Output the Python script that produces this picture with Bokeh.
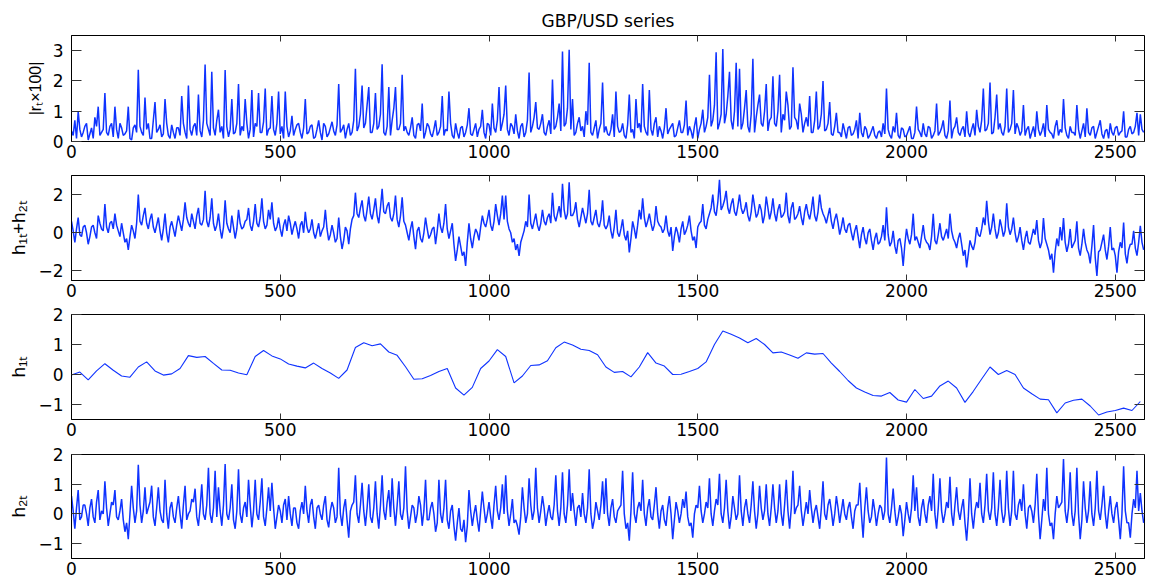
import numpy as np
from bokeh.plotting import figure
from bokeh.layouts import column
from bokeh.models import Range1d, FixedTicker, LinearAxis
from bokeh.embed import file_html
from bokeh.resources import INLINE

TITLE = "GBP/USD series"
X_TICKS = [0, 500, 1000, 1500, 2000, 2500]
X_MAX = 2570
NOISY_STEP = 4     # time steps between stored samples of the noisy series
SMOOTH_STEP = 20   # time steps between stored samples of h1t

# |r_t x 100|
abs_r = [
    0.35, 0.2, 0.7, 0.1, 1.0, 0.4, 0.15, 0.3, 0.5, 0.6, 0.05, 0.25, 0.45, 0.1, 0.8, 0.5, 1.15, 0.2, 0.3, 0.4,
    1.6, 0.3, 0.2, 0.5, 0.6, 0.15, 1.15, 0.4, 0.1, 0.6, 0.45, 0.2, 0.25, 0.35, 1.15, 0.1, 0.05, 0.45, 0.55, 0.3,
    2.37, 0.5, 0.3, 0.2, 1.45, 0.4, 0.6, 0.1, 0.1, 0.7, 1.3, 0.3, 0.4, 0.55, 0.15, 0.25, 1.4, 0.6, 0.2, 0.1,
    0.55, 0.3, 0.1, 0.45, 0.45, 0.2, 1.5, 0.6, 0.3, 0.1, 1.85, 0.4, 0.2, 0.5, 0.6, 0.2, 1.55, 0.35, 0.15, 0.7,
    2.54, 0.6, 0.4, 0.2, 2.3, 0.45, 0.2, 0.7, 1.05, 0.3, 0.5, 0.1, 2.36, 0.5, 0.15, 0.4, 1.4, 0.25, 0.3, 0.6,
    1.9, 0.2, 0.5, 0.35, 1.4, 0.6, 0.1, 0.4, 1.7, 0.15, 0.6, 0.5, 1.6, 0.3, 0.3, 0.65, 1.75, 0.2, 0.4, 0.45,
    1.5, 0.4, 0.2, 0.6, 1.65, 0.25, 0.5, 0.1, 1.65, 0.5, 0.15, 0.35, 0.85, 0.2, 0.4, 0.55, 0.6, 0.3, 0.1, 0.45,
    1.4, 0.25, 0.3, 0.5, 0.55, 0.1, 0.15, 0.4, 0.7, 0.3, 0.05, 0.6, 0.5, 0.15, 0.25, 0.45, 0.65, 0.35, 0.2, 0.55,
    1.9, 0.3, 0.4, 0.55, 0.1, 0.4, 0.6, 0.2, 0.3, 0.7, 2.4, 0.35, 0.5, 0.9, 1.85, 0.45, 0.6, 1.2, 1.8, 0.3,
    0.3, 0.6, 1.6, 0.4, 0.5, 0.9, 2.55, 0.3, 0.2, 0.5, 1.8, 0.2, 0.7, 1.1, 1.8, 0.4, 0.4, 0.6, 2.2, 0.35,
    0.5, 0.3, 0.2, 0.45, 0.8, 0.2, 0.1, 0.55, 0.6, 0.35, 1.25, 0.1, 0.3, 0.6, 0.5, 0.25, 0.15, 0.4, 0.7, 0.2,
    0.3, 0.5, 1.5, 0.2, 0.4, 0.35, 1.65, 0.6, 0.2, 0.1, 0.6, 0.3, 0.1, 0.45, 0.5, 0.15, 0.3, 0.55, 1.1, 0.25,
    0.2, 0.4, 0.6, 0.15, 0.4, 0.5, 1.05, 0.3, 0.1, 0.6, 0.55, 0.2, 1.25, 0.45, 0.3, 0.7, 1.8, 0.35, 0.6, 0.9,
    1.85, 0.4, 0.2, 0.6, 0.5, 0.25, 0.9, 0.35, 0.1, 0.5, 0.6, 0.15, 0.3, 0.7, 2.28, 0.3, 0.5, 0.8, 1.3, 0.45,
    0.4, 0.6, 0.9, 0.3, 0.2, 0.5, 0.7, 0.25, 2.05, 0.4, 0.5, 0.8, 1.25, 0.35, 2.97, 0.5, 0.6, 1.1, 3.03, 0.4,
    1.4, 0.2, 0.3, 0.6, 0.8, 0.35, 0.5, 0.15, 1.0, 0.55, 2.6, 0.3, 0.2, 0.45, 0.7, 0.1, 0.4, 0.6, 1.95, 0.3,
    0.5, 0.25, 0.2, 0.4, 0.9, 0.15, 1.65, 0.5, 0.3, 0.35, 0.6, 0.2, 0.1, 0.55, 1.55, 0.3, 0.4, 0.1, 1.4, 0.45,
    0.6, 0.3, 1.9, 0.5, 0.3, 0.2, 1.7, 0.4, 0.2, 0.6, 0.8, 0.15, 0.5, 0.35, 0.1, 0.45, 1.1, 0.25, 0.4, 0.5,
    0.6, 0.15, 0.2, 0.45, 0.7, 0.3, 0.3, 0.55, 1.35, 0.2, 0.5, 0.35, 0.1, 0.5, 0.8, 0.1, 0.4, 0.6, 1.05, 0.3,
    0.5, 0.8, 2.2, 0.5, 0.7, 1.2, 2.95, 0.4, 0.6, 0.9, 3.05, 0.6, 0.9, 1.5, 2.3, 0.7, 0.4, 1.0, 2.6, 0.5,
    2.4, 0.4, 0.6, 1.1, 1.7, 0.5, 0.3, 0.9, 2.73, 0.3, 0.8, 1.2, 1.55, 0.6, 0.5, 1.0, 1.9, 0.35, 0.7, 0.8,
    2.15, 0.6, 0.5, 1.0, 2.2, 0.3, 0.9, 0.7, 1.65, 1.2, 0.4, 0.5, 2.45, 0.8, 0.7, 0.4, 1.25, 0.9, 0.3, 0.6,
    0.8, 0.5, 1.5, 0.3, 0.3, 0.7, 1.65, 0.4, 0.5, 0.9, 2.0, 0.35, 0.4, 0.6, 1.3, 0.25, 0.2, 0.5, 0.95, 0.3,
    0.3, 0.15, 0.6, 0.35, 0.1, 0.45, 0.5, 0.2, 0.25, 0.4, 0.7, 0.1, 0.95, 0.3, 0.15, 0.5, 0.4, 0.1, 0.2, 0.35,
    0.5, 0.2, 0.1, 0.3, 0.35, 0.15, 0.6, 0.25, 1.75, 0.4, 0.2, 0.1, 0.5, 0.3, 0.95, 0.2, 0.1, 0.45, 0.4, 0.15,
    0.2, 0.35, 0.5, 0.1, 0.1, 0.3, 1.15, 0.4, 0.3, 0.15, 0.6, 0.25, 0.15, 0.5, 0.45, 0.1, 0.2, 0.35, 1.25, 0.2,
    0.3, 0.45, 0.7, 0.2, 0.1, 0.35, 1.35, 0.1, 0.4, 0.5, 0.8, 0.3, 0.2, 0.4, 0.5, 0.15, 1.0, 0.3, 0.15, 0.4,
    0.6, 0.2, 1.05, 0.5, 0.3, 0.7, 1.75, 0.35, 0.4, 0.6, 1.95, 0.25, 0.3, 0.8, 1.55, 0.4, 0.6, 0.3, 0.2, 0.5,
    1.75, 0.3, 0.4, 0.6, 1.7, 0.25, 0.6, 0.45, 0.2, 0.35, 1.2, 0.2, 0.4, 0.5, 0.1, 0.3, 0.5, 0.15, 1.0, 0.4,
    0.2, 0.35, 0.6, 0.15, 1.2, 0.4, 0.3, 0.25, 0.1, 0.5, 0.7, 0.2, 0.4, 0.3, 1.4, 0.45, 0.2, 0.1, 0.5, 0.3,
    0.3, 0.2, 1.2, 0.4, 0.1, 0.35, 0.6, 0.15, 1.1, 0.3, 0.2, 0.45, 0.5, 0.1, 0.3, 0.5, 0.7, 0.25, 0.1, 0.35,
    0.4, 0.1, 0.6, 0.3, 0.2, 0.45, 0.5, 0.2, 0.3, 0.35, 1.0, 0.15, 0.15, 0.4, 0.5, 0.25, 0.3, 0.5, 0.95, 0.2,
    0.9, 0.4, 0.3,
]

# h1t + h2t
h_sum = [
    0.6, 0.1, -0.5, 0.2, 0.8, -0.1, -0.2, 0.3, 0.4, 0.0, -0.6, -0.2, 0.3, 0.4, 0.0, -0.3, 0.9, 0.5, 0.2, 0.1,
    1.5, 0.3, 0.0, 0.5, 0.6, 0.2, 1.0, 0.4, 0.1, -0.2, 0.5, 0.0, -0.5, -0.3, -0.9, -0.2, 0.4, 0.1, -0.3, 0.5,
    2.0, 0.6, 0.4, 0.9, 1.3, 0.5, 0.2, 0.7, 1.0, 0.3, 0.0, 0.4, 0.8, 0.1, -0.4, 0.2, 1.0, 0.0, -0.5, 0.3,
    0.6, 0.2, -0.2, 0.4, 0.9, 0.5, 0.1, 0.7, 1.6, 0.8, 0.5, 0.3, 1.0, 0.6, 0.2, 0.9, 1.3, 0.5, 0.4, 0.7,
    2.2, 0.6, 0.3, 0.8, 1.8, 0.5, 0.1, 0.4, 1.0, 0.2, -0.3, 0.3, 1.7, 0.5, 0.2, 0.0, 0.9, 0.3, -0.3, 0.2,
    1.2, 0.5, 0.2, 0.3, 0.6, 0.7, 1.3, 0.4, 0.1, 0.6, 1.5, 0.5, 0.3, 0.8, 1.8, 0.6, 0.2, 0.4, 1.2, 0.7,
    1.6, 0.5, 0.1, 0.3, 0.8, 0.2, -0.2, 0.4, 0.7, 0.1, 0.9, 0.5, -0.1, 0.3, 0.6, 0.2, -0.3, 0.4, 0.6, 0.0,
    1.1, 0.3, 0.0, 0.2, 0.7, 0.0, -0.3, 0.1, 0.5, -0.2, 0.1, 0.3, 1.2, 0.2, -0.4, -0.1, 0.4, 0.0, -0.5, -0.3,
    0.8, -0.2, -0.85, -0.4, 0.3, 0.1, -0.6, 0.2, 0.7, 0.9, 2.1, 1.0, 0.8, 1.3, 1.7, 0.9, 0.6, 1.2, 1.9, 1.0,
    0.7, 1.2, 1.8, 0.9, 0.5, 1.3, 2.3, 1.1, 1.0, 1.4, 1.6, 0.8, 0.6, 1.0, 1.95, 0.7, 0.3, 0.9, 1.86, 0.6,
    0.4, 0.0, -0.4, 0.2, 0.6, -0.2, -0.86, 0.1, 0.3, -0.3, -0.5, 0.0, 0.8, 0.2, -0.3, -0.1, 0.2, 0.3, -0.6, 0.1,
    1.0, 0.3, 0.0, 0.5, 1.5, 0.2, -0.3, 0.1, 0.5, -0.6, -1.47, -0.9, -0.2, -0.7, -1.2, -1.0, -1.74, -0.5, 0.5, -0.3,
    -0.8, -0.2, 0.2, 0.0, -0.4, 0.3, 0.9, 0.5, 0.3, 0.7, 1.2, 0.4, 0.1, 0.6, 1.5, 0.9, 0.4, 1.0, 1.95, 0.7,
    1.95, 0.6, 0.2, 0.0, -0.5, -0.3, -0.9, -0.6, -1.21, -0.5, -0.2, 0.1, 0.6, 0.3, 2.0, 0.5, 0.2, 0.6, 1.0, 0.4,
    0.1, 0.5, 1.2, 0.6, 0.4, 0.8, 1.0, 0.5, 2.1, 0.9, 0.6, 1.0, 1.4, 0.8, 2.56, 1.2, 0.7, 1.0, 2.65, 0.9,
    0.9, 1.1, 1.6, 0.7, 0.3, 0.8, 1.3, 0.9, 0.5, 1.0, 2.25, 0.6, 0.4, 0.8, 1.2, 0.5, 0.3, 0.7, 1.7, 0.4,
    0.2, 0.4, 0.9, 0.1, -0.3, 0.3, 1.2, 0.0, -0.2, 0.2, 0.7, -0.1, -0.4, 0.1, -1.03, -0.3, 0.6, 0.2, -0.3, 0.4,
    1.2, 0.7, 1.8, 0.8, 0.3, 0.6, 1.0, 0.5, 0.1, 0.4, 1.4, 0.6, 0.4, 0.3, 0.0, 0.2, 0.9, 0.1, -0.2, 0.3,
    -0.95, -0.2, 0.3, 0.0, -0.5, 0.2, 0.6, -0.1, 0.1, 0.4, 0.9, 0.1, -0.4, -0.2, -0.8, 0.3, 0.5, 0.6, 1.5, 0.4,
    0.2, 0.7, 1.0, 1.3, 2.0, 1.1, 0.9, 1.6, 2.77, 1.2, 1.4, 1.7, 2.2, 1.3, 1.0, 1.5, 1.8, 1.1, 0.9, 1.4,
    2.0, 1.3, 1.0, 1.2, 1.6, 0.9, 0.6, 1.1, 2.0, 1.4, 0.8, 1.0, 1.5, 1.2, 0.5, 0.9, 1.9, 1.3, 0.7, 1.1,
    1.8, 1.0, 0.6, 1.2, 1.5, 0.8, 0.9, 1.1, 2.1, 0.9, 0.5, 1.3, 1.6, 0.7, 0.8, 1.0, 1.4, 0.8, 0.4, 1.1,
    1.5, 1.0, 0.7, 1.2, 1.9, 0.9, 0.6, 1.1, 2.0, 1.3, 1.0, 0.8, 0.5, 0.9, 1.3, 0.6, 0.2, 0.7, 1.0, 0.5,
    -0.1, 0.3, 0.8, 0.2, 0.0, 0.4, 0.5, 0.0, -0.4, 0.1, 0.4, -0.2, -0.8, -0.1, 0.3, -0.3, -0.6, 0.0, 0.2, -0.4,
    -0.9, -0.3, 0.0, -0.6, -0.5, -0.2, 0.4, -0.4, 1.33, -0.1, -0.7, -0.5, 0.1, -0.7, -1.1, -0.4, -0.3, -0.8, -1.74, -0.6,
    0.2, -0.3, -0.6, -0.1, 1.0, -0.4, -0.2, -0.5, -0.8, -0.2, 0.4, -0.3, -0.5, -0.6, -0.9, -0.2, 1.0, -0.4, -0.6, -0.1,
    0.5, -0.2, -0.4, -0.1, 0.2, -0.3, 1.0, 0.1, -0.3, -0.5, -0.8, -0.3, 0.0, -0.6, -1.2, -0.9, -1.82, -1.1, -0.4, -0.7,
    -0.9, -0.5, 0.3, -0.1, -0.2, 0.2, 0.8, 0.4, 1.68, 0.6, -0.1, 0.3, 1.0, 0.2, -0.3, 0.0, 0.7, 0.3, -0.2, 0.1,
    1.55, 0.3, -0.1, 0.2, 0.8, 0.0, -0.5, -0.2, 0.3, -0.4, -0.9, -0.3, 0.1, -0.5, -0.6, -0.2, 0.2, -0.1, 0.67, -0.4,
    -0.8, -0.5, 0.77, -0.3, -0.6, -0.9, -1.4, -1.1, -2.09, -1.0, -0.3, -0.7, 0.3, -0.4, 0.77, -0.5, -1.0, -0.6, 0.2, -0.8,
    -0.6, -0.4, 0.6, -0.8, -1.2, -0.6, 0.2, -0.5, -0.9, -1.1, -1.6, -0.7, 0.4, -1.3, -2.26, -1.0, -0.9, -0.5, -0.1, -0.9,
    -1.4, -0.7, 0.3, -0.9, -0.8, -1.2, -2.09, -1.0, -0.5, -0.8, 0.54, -1.1, -1.6, -0.9, -0.6, -0.6, 0.1, -0.8, -1.2, -0.5,
    0.37, -0.5, -0.9,
]

# h1t (smooth component)
h1 = [
    -0.02, 0.08, -0.18, 0.12, 0.36, 0.14, -0.05, -0.09, 0.25, 0.42,
    0.12, -0.02, 0.02, 0.2, 0.63, 0.57, 0.6, 0.37, 0.15, 0.14,
    0.05, -0.01, 0.6, 0.8, 0.62, 0.52, 0.35, 0.28, 0.22, 0.38,
    0.2, 0.05, -0.13, 0.15, 0.9, 1.06, 0.96, 1.02, 0.75, 0.64,
    0.26, -0.16, -0.14, -0.03, 0.1, 0.2, -0.45, -0.69, -0.43, 0.2,
    0.45, 0.83, 0.6, -0.28, -0.05, 0.3, 0.32, 0.46, 0.89, 1.08,
    0.98, 0.84, 0.8, 0.66, 0.25, 0.07, 0.1, -0.08, 0.25, 0.73,
    0.38, 0.28, 0.0, 0.01, 0.1, 0.2, 0.42, 1.0, 1.45, 1.34,
    1.22, 1.06, 1.2, 1.0, 0.72, 0.75, 0.65, 0.54, 0.72, 0.68,
    0.7, 0.38, 0.1, -0.2, -0.45, -0.58, -0.7, -0.72, -0.6, -0.85,
    -0.92, -0.5, -0.8, -0.72, -0.38, -0.22, -0.45, -0.93, -0.56, -0.15,
    0.25, 0.0, 0.13, 0.0, -0.45, -0.64, -0.82, -0.84, -1.28, -0.95,
    -0.86, -0.82, -1.05, -1.35, -1.25, -1.2, -1.12, -1.2, -0.9,
]

# h2t
h2 = [
    0.6, 0.1, -0.5, 0.2, 0.8, -0.2, -0.1, 0.3, 0.3, 0.0, -0.4, 0.2, 0.5, -0.1, -0.3, 0.4, 0.8, -0.2, 0.1, 0.0,
    1.1, 0.2, -0.4, 0.0, 0.4, 0.3, 0.8, -0.1, -0.2, 0.1, 0.5, -0.2, -0.6, -0.3, -0.85, 0.0, 0.95, 0.2, -0.3, 0.1,
    1.65, 0.3, -0.3, 0.1, 0.9, 0.0, 0.2, 0.4, 0.95, -0.1, -0.4, 0.2, 0.9, 0.1, -0.2, -0.3, 1.15, 0.0, -0.5, 0.2,
    0.4, -0.1, -0.3, 0.2, 0.6, 0.0, -0.5, 0.3, 0.95, -0.2, 0.0, 0.1, 0.5, 0.4, 0.85, -0.1, -0.4, 0.2, 1.0, 0.0,
    -0.2, 0.3, 1.55, 0.0, -0.3, 0.2, 1.45, -0.1, 0.9, 0.1, -0.4, 0.3, 1.68, 0.0, -0.2, 0.2, 1.0, -0.2, -0.5, 0.1,
    1.5, 0.0, -0.3, 0.2, 0.4, -0.1, 1.15, 0.3, -0.45, 0.1, 1.15, 0.0, -0.2, 0.4, 1.2, -0.1, -0.4, 0.2, 0.9, 0.1,
    1.05, 0.2, -0.5, -0.1, 0.3, 0.1, -0.3, 0.3, 0.5, -0.2, 0.6, 0.0, -0.4, 0.2, 0.2, -0.3, -0.5, 0.1, 0.4, 0.0,
    0.95, 0.1, -0.3, 0.3, 0.5, -0.1, -0.5, 0.2, 0.3, 0.0, -0.2, 0.3, 0.6, -0.2, -0.45, 0.1, 0.4, 0.2, -0.3, -0.1,
    1.55, 0.0, -0.4, 0.2, 0.5, -0.2, -0.8, 0.1, 0.3, 0.4, 1.3, 0.0, -0.3, 0.3, 1.05, 0.1, -0.4, 0.2, 1.0, -0.1,
    -0.3, 0.2, 1.1, 0.0, -0.5, 0.3, 1.3, 0.1, -0.2, 0.4, 0.8, -0.1, 1.2, 0.2, -0.4, 0.3, 1.1, 0.0, -0.2, 0.2,
    1.6, 0.1, -0.5, -0.1, 0.3, 0.2, -0.3, 0.0, 0.6, 0.3, -0.4, 0.1, 1.15, -0.2, -0.2, 0.2, 0.4, 0.0, -0.6, -0.3,
    1.15, 0.0, -0.3, 0.2, 1.15, -0.2, -0.5, 0.1, 0.3, -0.4, -0.9, -0.3, 0.2, -0.5, -0.6, -0.2, -0.95, -0.4, 0.8, 0.1,
    -0.4, 0.0, 0.3, -0.2, -0.6, 0.1, 0.75, 0.2, -0.3, 0.0, 0.4, -0.1, -0.5, 0.3, 0.95, 0.1, -0.2, 0.2, 1.0, 0.0,
    1.3, 0.1, -0.4, 0.0, 0.5, -0.3, -0.2, -0.4, -0.7, -0.1, 0.9, 0.2, -0.3, 0.0, 1.2, 0.3, -0.2, 0.1, 1.55, 0.2,
    -0.3, 0.1, 0.6, 0.2, -0.4, 0.0, 0.3, -0.1, -0.2, 0.3, 1.3, 0.1, -0.4, 0.2, 1.4, 0.0, -0.3, 0.3, 1.5, 0.1,
    0.7, 0.1, -0.4, 0.2, 0.3, -0.1, 0.7, 0.0, -0.3, 0.2, 1.5, 0.0, -0.5, -0.2, 0.4, 0.1, -0.2, 0.3, 1.1, 0.0,
    1.2, 0.0, -0.4, 0.2, 0.5, -0.1, -0.3, 0.1, 0.2, 0.3, 1.45, 0.0, -0.5, -0.3, -0.9, 0.1, 1.4, 0.0, -0.3, 0.2,
    0.4, 0.1, 1.15, 0.0, -0.4, 0.2, 0.5, -0.1, -0.2, 0.3, 0.9, 0.0, -0.5, 0.1, 0.3, -0.2, -0.4, 0.2, 0.6, 0.0,
    -0.85, -0.2, 0.4, 0.1, -0.3, 0.0, 0.5, 0.2, 0.75, -0.1, -0.4, -0.3, -0.8, 0.0, 0.3, 0.2, 0.95, 0.1, -0.3, 0.0,
    0.4, 0.2, 1.2, 0.0, -0.4, 0.1, 0.5, 0.3, 1.35, 0.0, -0.3, 0.2, 1.15, 0.1, -0.5, -0.1, 0.6, 0.2, -0.2, 0.0,
    1.3, 0.1, -0.4, 0.2, 0.5, 0.0, -0.3, 0.3, 1.1, 0.1, -0.5, 0.0, 0.95, 0.2, -0.2, 0.1, 1.0, 0.0, -0.4, 0.2,
    1.0, 0.2, -0.3, 0.1, 1.0, 0.0, -0.4, 0.3, 1.15, 0.1, -0.5, 0.2, 1.45, 0.0, 0.2, 0.3, 0.95, 0.1, -0.4, 0.0,
    0.4, 0.0, 0.8, 0.2, -0.3, 0.1, 0.3, -0.1, -0.5, 0.2, 1.1, 0.0, -0.2, 0.3, 0.5, 0.1, -0.4, 0.0, 0.6, 0.2,
    -0.3, 0.1, 0.5, 0.0, -0.2, 0.2, 0.4, -0.1, -0.5, 0.1, 0.3, 0.3, 1.05, 0.0, -0.8, 0.2, 0.9, 0.1, -0.3, -0.1,
    0.5, 0.1, -0.4, 0.0, 0.3, 0.2, -0.2, 0.1, 1.9, 0.0, -0.3, 0.2, 0.85, 0.1, -0.4, -0.1, 0.3, 0.0, -0.75, -0.2,
    0.4, 0.0, -0.3, 0.2, 1.3, 0.1, 0.9, -0.1, -0.4, 0.2, 0.5, 0.0, -0.3, 0.3, 0.6, 0.1, 1.35, 0.0, -0.5, 0.2,
    1.2, 0.1, -0.3, 0.0, 0.4, 0.2, 1.25, 0.0, -0.4, 0.3, 0.9, 0.1, -0.2, 0.2, 0.5, -0.3, -0.9, -0.1, 1.2, 0.0,
    -0.5, 0.1, 0.4, 0.2, 1.05, 0.0, -0.3, 0.3, 1.35, 0.1, -0.2, 0.2, 1.4, 0.0, -0.4, 0.2, 1.15, 0.1, -0.3, 0.0,
    1.45, 0.2, -0.4, 0.1, 1.45, 0.0, -0.2, 0.3, 0.5, 0.1, 1.0, 0.0, -0.5, 0.2, 0.3, 0.1, -0.3, 0.3, 1.35, 0.0,
    -0.85, -0.2, 0.5, 0.1, 1.55, 0.0, -0.4, -0.3, -0.85, 0.0, 0.6, 0.2, 0.3, 0.4, 1.85, 0.1, -0.3, 0.2, 1.4, 0.0,
    -0.4, 0.1, 1.55, 0.0, -0.85, -0.2, 1.1, 0.2, -0.3, 0.1, 1.1, 0.0, -0.4, 0.2, 1.45, 0.1, -0.2, 0.3, 0.95, 0.0,
    -0.5, 0.1, 0.6, 0.0, -0.3, 0.2, 0.4, -0.2, -0.85, 0.0, 1.6, 0.1, -0.3, -0.3, -0.8, 0.0, 0.5, 0.2, 1.45, 0.1,
    0.7, 0.1, -0.3,
]

LINE_COLOR = "#0f33ff"
TICK_FONT = "DejaVu Sans"
LABEL_FONT = "Liberation Sans"
MINUS_OVERRIDES = {-1: "\u22121", -2: "\u22122"}

panels = [
    dict(label="|r\u209c\u00d7100|", label_size="16px", values=abs_r, step=NOISY_STEP,
         yr=(0, 3.5), yt=[0, 1, 2, 3], top=35, fh=106, bottom=33, lw=1.5, title=TITLE),
    dict(label="h\u2081\u209c+h\u2082\u209c", label_size="19px", values=h_sum, step=NOISY_STEP,
         yr=(-2.5, 3), yt=[-2, 0, 2], top=1, fh=105, bottom=25, lw=1.5, title=None),
    dict(label="h\u2081\u209c", label_size="19px", values=h1, step=SMOOTH_STEP,
         yr=(-1.5, 2), yt=[-1, 0, 1, 2], top=9, fh=105, bottom=25, lw=1.1, title=None),
    dict(label="h\u2082\u209c", label_size="19px", values=h2, step=NOISY_STEP,
         yr=(-1.5, 2), yt=[-1, 0, 1, 2], top=10, fh=104, bottom=26, lw=1.5, title=None),
]


def style_hidden_axis(ax, tick_len):
    ax.major_label_text_font_size = "1px"
    ax.major_label_text_color = None
    ax.major_label_standoff = 0
    ax.axis_line_color = None
    ax.major_tick_in = tick_len
    ax.major_tick_out = 0
    ax.major_tick_line_color = "#333333"
    ax.minor_tick_line_color = None


figs = []
for cfg in panels:
    t = np.arange(len(cfg["values"])) * cfg["step"]
    kw = {}
    if cfg["title"]:
        kw["title"] = cfg["title"]
    p = figure(frame_width=1073, frame_height=cfg["fh"],
               min_border_left=71, min_border_right=7,
               min_border_top=cfg["top"], min_border_bottom=cfg["bottom"],
               x_range=Range1d(0, X_MAX), y_range=Range1d(*cfg["yr"]),
               output_backend="svg", toolbar_location=None, **kw)
    p.line(t, cfg["values"], line_color=LINE_COLOR, line_width=cfg["lw"])

    p.xgrid.visible = False
    p.ygrid.visible = False
    p.outline_line_color = "black"
    p.outline_line_width = 1
    p.background_fill_color = "white"
    p.border_fill_color = "white"

    xa = p.xaxis[0]
    xa.ticker = FixedTicker(ticks=X_TICKS)
    xa.major_tick_in = 6
    xa.major_tick_out = 0
    xa.minor_tick_line_color = None
    xa.axis_line_color = "black"
    xa.major_tick_line_color = "#333333"
    xa.major_label_text_font = TICK_FONT
    xa.major_label_text_font_size = "17px"
    xa.major_label_text_color = "black"
    xa.major_label_standoff = 3

    ya = p.yaxis[0]
    ya.ticker = FixedTicker(ticks=cfg["yt"])
    ya.major_tick_in = 10
    ya.major_tick_out = 0
    ya.minor_tick_line_color = None
    ya.axis_line_color = "black"
    ya.major_tick_line_color = "#333333"
    ya.major_label_text_font = TICK_FONT
    ya.major_label_text_font_size = "17px"
    ya.major_label_text_color = "black"
    ya.major_label_standoff = 8
    ya.major_label_overrides = MINUS_OVERRIDES
    ya.axis_label = cfg["label"]
    ya.axis_label_text_font = LABEL_FONT
    ya.axis_label_text_font_size = cfg["label_size"]
    ya.axis_label_text_font_style = "normal"
    ya.axis_label_text_color = "black"
    ya.axis_label_standoff = 6

    top_ax = LinearAxis(ticker=FixedTicker(ticks=X_TICKS))
    style_hidden_axis(top_ax, 6)
    p.add_layout(top_ax, "above")
    right_ax = LinearAxis(ticker=FixedTicker(ticks=cfg["yt"]))
    style_hidden_axis(right_ax, 10)
    p.add_layout(right_ax, "right")

    if cfg["title"]:
        p.title.text_font = TICK_FONT
        p.title.text_font_size = "17px"
        p.title.text_font_style = "normal"
        p.title.text_color = "black"
        p.title.align = "center"

    figs.append(p)

layout = column(*figs, spacing=0)
open("out.html", "w").write(file_html(layout, INLINE, title=TITLE))
